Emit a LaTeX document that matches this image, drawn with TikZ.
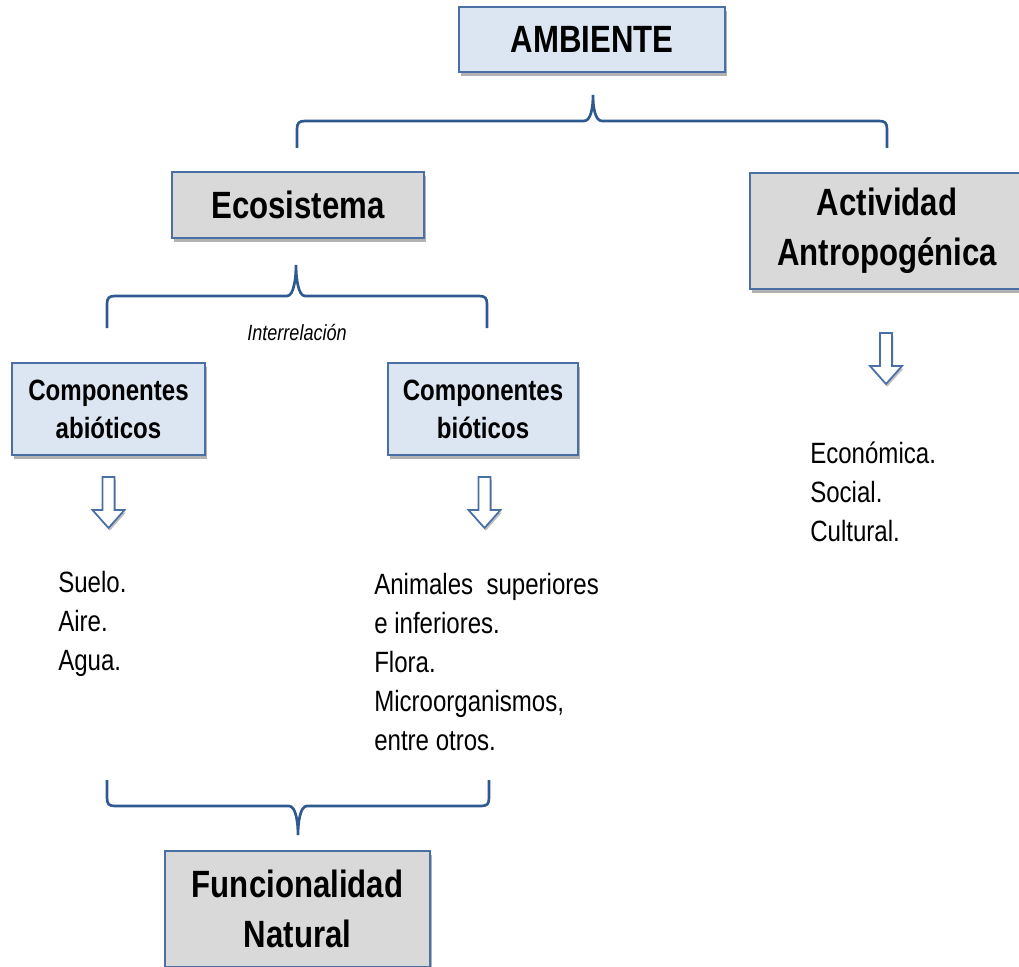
\documentclass[tikz,border=0pt]{standalone}
\usepackage{fontspec}
\setmainfont{Liberation Sans}[FakeStretch=0.82]
\usetikzlibrary{shadows}
\definecolor{lblue}{HTML}{DCE6F2}
\definecolor{lgray}{HTML}{D9D9D9}
\definecolor{bord}{HTML}{4A6FA5}
\definecolor{brc}{HTML}{2F5A8F}
\begin{document}
\begin{tikzpicture}[x=0.75pt,y=-0.75pt,
  box/.style={draw=bord, line width=1pt, rectangle, align=center, inner sep=0pt,
    drop shadow={shadow xshift=1.5pt, shadow yshift=-3pt, opacity=0.3, fill=black}},
  bluebox/.style={box, fill=lblue},
  graybox/.style={box, fill=lgray},
  bigtxt/.style={font=\fontsize{28.5}{37.5}\selectfont\bfseries},
  midtxt/.style={font=\fontsize{22}{28.5}\selectfont\bfseries},
  listtxt/.style={font=\fontsize{22}{29.25}\selectfont, align=left, anchor=north west, inner sep=0pt},
  brace/.style={draw=brc, line width=2pt},
  arr/.style={draw=bord, line width=1.3pt, fill=white,
    drop shadow={shadow xshift=1pt, shadow yshift=-2pt, opacity=0.25, fill=black}},
  dnarrow/.pic={\path[arr] (-6,0) -- (6,0) -- (6,33) -- (16,33) -- (0,51) -- (-16,33) -- (-6,33) -- cycle;}
]
\useasboundingbox (0,0) rectangle (1019,966);

% boxes
\node[bluebox, bigtxt, minimum width=266*0.75pt, minimum height=65*0.75pt] (amb) at (592,39.5) {AMBIENTE};
\node[graybox, bigtxt, minimum width=252*0.75pt, minimum height=66*0.75pt] (eco) at (298,205) {Ecosistema};
\node[graybox, bigtxt, minimum width=274*0.75pt, minimum height=116*0.75pt] (act) at (887,231) {Actividad\\Antropogénica};
\node[bluebox, midtxt, minimum width=193*0.75pt, minimum height=92*0.75pt] (abi) at (108.5,409) {Componentes\\abióticos};
\node[bluebox, midtxt, minimum width=190*0.75pt, minimum height=92*0.75pt] (bio) at (483,409) {Componentes\\bióticos};
\node[graybox, bigtxt, minimum width=265*0.75pt, minimum height=116*0.75pt] (fun) at (297.5,909) {Funcionalidad\\Natural};

% braces
\coordinate (tbL) at (297,148);
\coordinate (tbR) at (887,148);
\draw[brace] (tbL) -- ++(0,-19) .. controls +(0,-6) and +(-6,0) .. ++(8,-8) -- ++(279,0)
  .. controls +(7,0) and +(0,12) .. ++(9,-26) .. controls +(0,12) and +(-7,0) .. ++(9,26)
  -- ++(277,0) .. controls +(6,0) and +(0,-6) .. ++(8,8) -- (tbR);

\coordinate (ebL) at (107,328);
\coordinate (ebR) at (487,328);
\draw[brace] (ebL) -- ++(0,-24) .. controls +(0,-6) and +(-6,0) .. ++(8,-8) -- ++(172,0)
  .. controls +(7,0) and +(0,12) .. ++(9,-31) .. controls +(0,12) and +(-7,0) .. ++(9,31)
  -- ++(174,0) .. controls +(6,0) and +(0,-6) .. ++(8,8) -- (ebR);

\coordinate (bbL) at (107,780);
\coordinate (bbR) at (489,780);
\draw[brace] (bbL) -- ++(0,18) .. controls +(0,6) and +(-6,0) .. ++(8,8) -- ++(174,0)
  .. controls +(7,0) and +(0,-12) .. ++(9,29) .. controls +(0,-12) and +(-7,0) .. ++(9,-29)
  -- ++(174,0) .. controls +(6,0) and +(0,6) .. ++(8,-8) -- (bbR);

\node[font=\fontsize{16.5}{18}\selectfont\itshape] (inter) at (297,333) {Interrelación};

% block arrows
\pic (a1) at (108.5,477) {dnarrow};
\pic (a2) at (484.5,477) {dnarrow};
\pic (a3) at (886,333) {dnarrow};

% lists
\node[listtxt] (l1) at (58,571) {Suelo.\\Aire.\\Agua.};
\node[listtxt] (l2) at (374,573) {Animales\ \ superiores\\e inferiores.\\Flora.\\Microorganismos,\\entre otros.};
\node[listtxt] (l3) at (810,442) {Económica.\\Social.\\Cultural.};
\end{tikzpicture}
\end{document}
